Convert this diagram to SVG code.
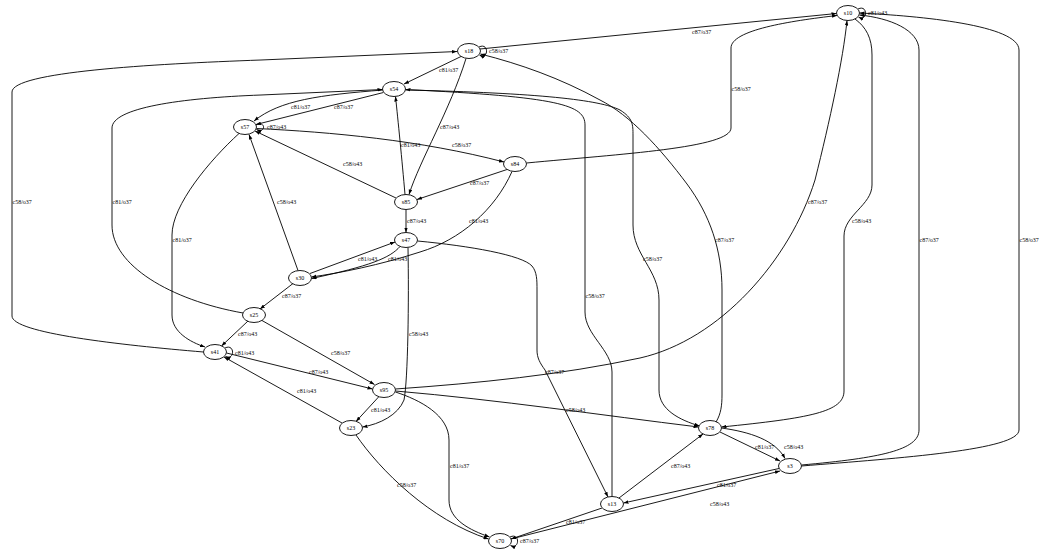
<svg xmlns="http://www.w3.org/2000/svg" width="1042" height="552" viewBox="0 0 1042 552">
<style>
.n ellipse{fill:#fff;stroke:#000;stroke-width:0.9}
.n text{font-family:"Liberation Serif",serif;font-size:6px;text-anchor:middle;fill:#000}
.e path{fill:none;stroke:#000;stroke-width:0.9;marker-end:url(#ah)}
.e text{font-family:"Liberation Serif",serif;font-size:6px;fill:#000}
</style>
<defs>
<marker id="ah" markerWidth="6" markerHeight="4" refX="5" refY="2" orient="auto" markerUnits="userSpaceOnUse"><path d="M0,0.2 L5,2 L0,3.8 z" fill="#000"/></marker>
</defs>
<rect width="1042" height="552" fill="#fff"/>
<g id="connectors" class="e">
<path d="M203.5,352 C120,345 12,333 12,316 L12,92 C12,72 150,64 261,60 L457,51.5"/><text x="12.5" y="204">c58/o37</text>
<path d="M243,313 C170,300 112,265 112,225 L112,128 C112,108 180,98 261,95 L382.5,89.5"/><text x="112.5" y="204">c81/o37</text>
<path d="M239,133.5 C210,160 172,205 172,235 L172,315 C172,332 190,342 205,347"/><text x="172.5" y="242">c81/o37</text>
<path d="M461,56.5 L404,84"/><text x="439" y="72">c81/o37</text>
<path d="M479,47 C489,42 489,60 479.5,55"/><text x="489" y="53">c58/o37</text>
<path d="M858,9 C868,4 868,22 858.5,17"/><text x="868" y="15">c81/o43</text>
<path d="M480,49 L836.5,13.5"/><text x="692" y="34">c87/o37</text>
<path d="M526.5,163 C620,154 731,148 731,128 L731,48 C731,30 790,21 837,15.5"/><text x="731.5" y="91">c58/o37</text>
<path d="M383,90 C320,95 280,100 254,121"/><text x="291" y="109">c81/o37</text>
<path d="M383.5,92.5 L256,124.5"/><text x="334" y="109">c87/o37</text>
<path d="M256,125 C266,120 266,134 256.5,129.5"/><text x="267" y="129">c87/o43</text>
<path d="M256.5,128.5 C330,132 420,140 504,162"/><text x="452" y="147">c58/o37</text>
<path d="M396,198 L255,131"/><text x="343" y="166">c58/o43</text>
<path d="M298,270.5 L249,134.5"/><text x="277" y="204">c58/o43</text>
<path d="M405,194.5 C402,160 398,120 395.5,96.5"/><text x="401" y="147">c81/o43</text>
<path d="M466,58.5 C450,110 420,160 409,194.5"/><text x="440" y="129">c87/o43</text>
<path d="M507,169.5 L417,199.5"/><text x="470" y="185">c87/o37</text>
<path d="M512,171.5 C495,210 460,240 420,252 C380,265 340,273 311.5,277"/><text x="469" y="223">c81/o43</text>
<path d="M406,209.5 L406,232.5"/><text x="407" y="223">c87/o43</text>
<path d="M310,273.5 L395,242"/><text x="358" y="261">c81/o43</text>
<path d="M400,246.5 C390,258 370,266 311.5,278.5"/><text x="388" y="261">c81/o43</text>
<path d="M293,283.5 L260,309"/><text x="282" y="298">c87/o37</text>
<path d="M248,321 L221.5,346"/><text x="238" y="336">c87/o43</text>
<path d="M225,348 C235,343 235,361 225.5,356.5"/><text x="235" y="355">c81/o43</text>
<path d="M262,320.5 L374.5,384.5"/><text x="331" y="355">c58/o37</text>
<path d="M226.5,353 L372.5,389"/><text x="309" y="374">c87/o43</text>
<path d="M342,423 L224,357"/><text x="297" y="393">c81/o43</text>
<path d="M379,396.5 L356,421.5"/><text x="371" y="412">c81/o43</text>
<path d="M408,247.5 C409,300 408,380 404,400 C398,415 380,424 362.5,427"/><text x="409" y="336">c58/o43</text>
<path d="M356,435 C380,470 430,520 488.5,539"/><text x="397" y="487">c58/o37</text>
<path d="M395.5,392 C420,400 449,415 449,440 L449,500 C449,520 470,530 489.5,537"/><text x="450" y="468">c81/o37</text>
<path d="M395.5,389 C480,383 560,375 640,358 C720,340 790,260 815,180 C830,120 843,60 847,20.5"/><text x="808" y="204">c87/o37</text>
<path d="M395.5,391 C500,400 600,415 698.5,427"/><text x="566" y="412">c58/o43</text>
<path d="M612,496.5 L612,372 C612,350 585,335 585,312 L585,125 C585,105 560,97 405.5,89.5"/><text x="585.5" y="298">c58/o37</text>
<path d="M405.5,90 C540,93 600,100 620,110 C633,118 633,125 633,135 L633,225 C633,255 659,270 659,300 L659,390 C659,410 680,420 699.5,426"/><text x="643" y="261">c58/o37</text>
<path d="M716,422 C721,414 722,405 722,395 L722,290 C722,250 710,215 687,184 C660,148 630,115 600,100 C560,78 520,64 480.5,54"/><text x="715" y="242">c87/o37</text>
<path d="M855,19 C866,27 872,38 872,55 L872,185 C872,205 844,215 844,236 L844,391 C844,412 810,418 721.5,427"/><text x="852" y="223">c58/o43</text>
<path d="M801.5,465 C880,458 919,450 919,430 L919,50 C919,30 890,18 859.5,15"/><text x="919.5" y="242">c87/o37</text>
<path d="M801.5,466 C900,458 1019,450 1019,430 L1019,50 C1019,25 920,16 859.5,13"/><text x="1019.5" y="242">c58/o37</text>
<path d="M720,432 L780,461"/><text x="755" y="449">c81/o37</text>
<path d="M721.5,428 C750,432 775,440 785,458.5"/><text x="784" y="449">c58/o43</text>
<path d="M619,498 L703,434"/><text x="671" y="468">c87/o43</text>
<path d="M779,468.5 L623.5,503"/><text x="717" y="487">c81/o37</text>
<path d="M511,539 L780,471"/><text x="710" y="506">c58/o43</text>
<path d="M602,508 L511,539"/><text x="566" y="524">c81/o37</text>
<path d="M510,537 C520,532 520,550 510.5,545.5"/><text x="520" y="543">c87/o37</text>
<path d="M417.5,241 C470,246 522,255 532,266 C537,272 537,280 537,290 L537,350 C537,358 540,363 545,370 L608,497"/><text x="545" y="374">c87/o37</text>
</g>
<g id="s10" class="n"><ellipse cx="848" cy="13" rx="11.5" ry="7.5"/><text x="848" y="15">s10</text></g>
<g id="s18" class="n"><ellipse cx="469" cy="51" rx="11.5" ry="7.5"/><text x="469" y="53">s18</text></g>
<g id="s54" class="n"><ellipse cx="394" cy="89" rx="11.5" ry="7.5"/><text x="394" y="91">s54</text></g>
<g id="s57" class="n"><ellipse cx="245" cy="127" rx="11.5" ry="7.5"/><text x="245" y="129">s57</text></g>
<g id="s84" class="n"><ellipse cx="515" cy="164" rx="11.5" ry="7.5"/><text x="515" y="166">s84</text></g>
<g id="s85" class="n"><ellipse cx="406" cy="202" rx="11.5" ry="7.5"/><text x="406" y="204">s85</text></g>
<g id="s47" class="n"><ellipse cx="406" cy="240" rx="11.5" ry="7.5"/><text x="406" y="242">s47</text></g>
<g id="s30" class="n"><ellipse cx="300" cy="278" rx="11.5" ry="7.5"/><text x="300" y="280">s30</text></g>
<g id="s25" class="n"><ellipse cx="254" cy="315" rx="11.5" ry="7.5"/><text x="254" y="317">s25</text></g>
<g id="s41" class="n"><ellipse cx="215" cy="352" rx="11.5" ry="7.5"/><text x="215" y="354">s41</text></g>
<g id="s95" class="n"><ellipse cx="384" cy="390" rx="11.5" ry="7.5"/><text x="384" y="392">s95</text></g>
<g id="s23" class="n"><ellipse cx="351" cy="428" rx="11.5" ry="7.5"/><text x="351" y="430">s23</text></g>
<g id="s78" class="n"><ellipse cx="710" cy="428" rx="11.5" ry="7.5"/><text x="710" y="430">s78</text></g>
<g id="s3" class="n"><ellipse cx="790" cy="466" rx="11.5" ry="7.5"/><text x="790" y="468">s3</text></g>
<g id="s13" class="n"><ellipse cx="612" cy="504" rx="11.5" ry="7.5"/><text x="612" y="506">s13</text></g>
<g id="s70" class="n"><ellipse cx="500" cy="541" rx="11.5" ry="7.5"/><text x="500" y="543">s70</text></g>
</svg>
